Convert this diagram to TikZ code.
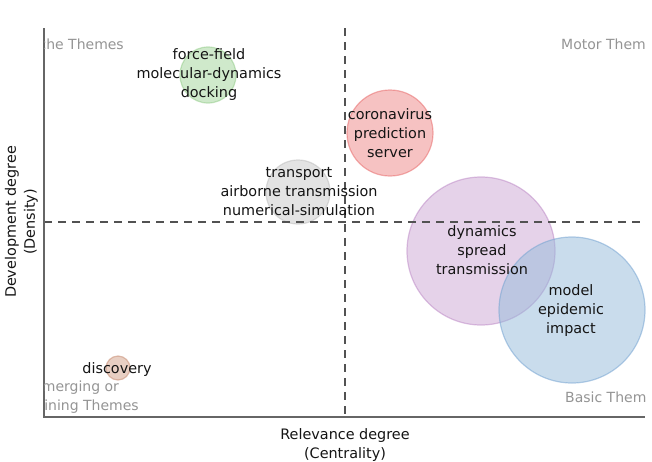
\documentclass[tikz,border=0pt]{standalone}
\usepackage{fontspec}
\setmainfont{DejaVu Sans}
\begin{document}
\begin{tikzpicture}[x=1pt,y=-1pt,
  lbl/.style={text=black!92,align=center,font=\fontsize{14.4}{19}\selectfont,inner sep=0pt},
  quad/.style={text=black!42,font=\fontsize{14}{19}\selectfont,inner sep=0pt},
  axis/.style={draw=black!60,line width=1.3pt},
  divider/.style={draw=black!68,line width=1.5pt,dash pattern=on 8pt off 6pt},
  bubble/.style={circle,inner sep=0pt,minimum size=#1,fill opacity=0.5,draw opacity=0.55,line width=1.2pt}]
\useasboundingbox (0,0) rectangle (652,461);
% bubbles
\node[bubble=56pt,fill={rgb,255:red,160;green,212;blue,152},draw={rgb,255:red,150;green,205;blue,140}] (b1) at (208,75) {};
\node[bubble=86pt,fill={rgb,255:red,238;green,134;blue,134},draw={rgb,255:red,232;green,110;blue,110}] (b2) at (390,133) {};
\node[bubble=64pt,fill={rgb,255:red,200;green,200;blue,200},draw={rgb,255:red,190;green,190;blue,190}] (b3) at (298,192) {};
\node[bubble=148pt,fill={rgb,255:red,204;green,166;blue,211},draw={rgb,255:red,190;green,140;blue,200}] (b4) at (481,251) {};
\node[bubble=146pt,fill={rgb,255:red,148;green,186;blue,218},draw={rgb,255:red,120;green,165;blue,210}] (b5) at (572,310) {};
\node[bubble=24pt,fill={rgb,255:red,210;green,160;blue,135},draw={rgb,255:red,200;green,140;blue,115}] (b6) at (118,368) {};
% axes
\coordinate (ytop) at (44,28);
\coordinate (orig) at (44,417);
\coordinate (xend) at (645,417);
\coordinate (vtop) at (345,28);
\coordinate (vbot) at (345,417);
\coordinate (hl) at (44,222);
\coordinate (hr) at (645,222);
\draw[divider] (vtop) -- (vbot);
\draw[divider] (hl) -- (hr);
\draw[axis] (ytop) -- (orig) -- (xend);
% quadrant labels (clipped to plot area)
\begin{scope}
\clip (44.7,20) rectangle (645,416);
\node[quad,anchor=east] (q1) at (124,44) {Niche Themes};
\node[quad,anchor=west] (q2) at (561,44) {Motor Themes};
\node[quad,align=center] (q3) at (76,397.5) {Emerging or\\Declining Themes};
\node[quad,anchor=west] (q4) at (565,397) {Basic Themes};
\end{scope}
% bubble labels
\node[lbl] (t1) at (209,75) {force-field\\molecular-dynamics\\docking};
\node[lbl] (t2) at (390,133) {coronavirus\\prediction\\server};
\node[lbl] (t3) at (299,192) {transport\\airborne transmission\\numerical-simulation};
\node[lbl] (t4) at (482,250) {dynamics\\spread\\transmission};
\node[lbl] (t5) at (571,311) {model\\epidemic\\impact};
\node[lbl] (t6) at (117,370) {discovery};
% axis titles
\node[lbl] (xl) at (345,445.5) {Relevance degree\\(Centrality)};
\node[lbl,rotate=90] (yl) at (21.5,222) {Development degree\\(Density)};
\end{tikzpicture}
\end{document}
